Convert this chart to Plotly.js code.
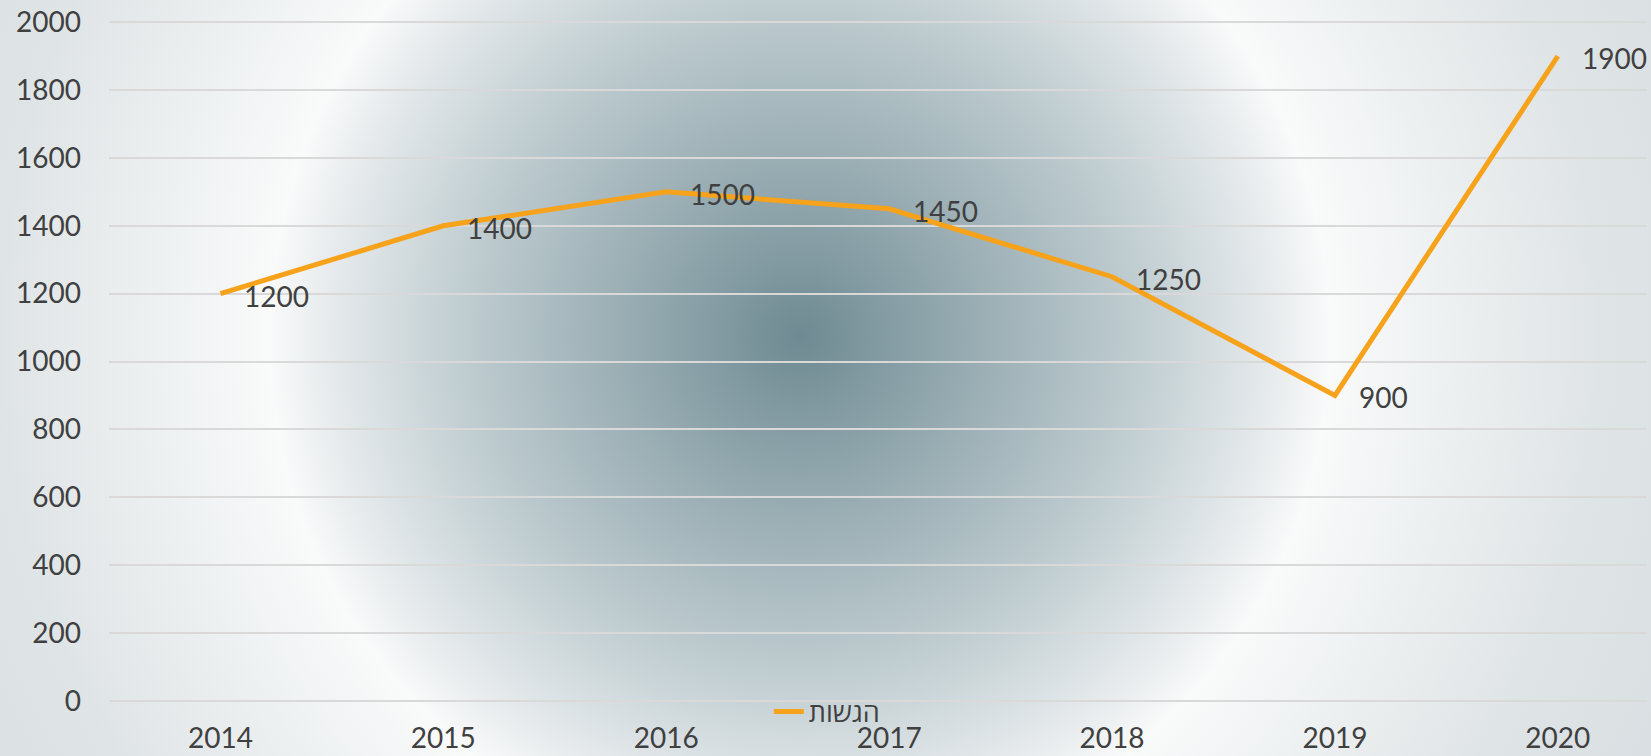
<!DOCTYPE html>
<html>
<head>
<meta charset="utf-8">
<script src="https://cdn.plot.ly/plotly-3.0.1.min.js"></script>
<style>
  html, body { margin: 0; padding: 0; }
  body {
    width: 1651px; height: 756px; overflow: hidden;
    background: radial-gradient(circle 1000px at 800px 337px,
      #6f8a92 0%, #8ea4ab 13%, #c0cdd1 34%, #e6eaec 47%, #f9fafa 53%, #eef1f2 64%, #dfe4e6 80%, #d8dee1 100%);
  }
  #chart { width: 1651px; height: 756px; }
</style>
</head>
<body>
<div id="chart"></div>
<script>
const years = ['2014', '2015', '2016', '2017', '2018', '2019', '2020'];
const submissions = [1200, 1400, 1500, 1450, 1250, 900, 1900];
const seriesName = 'הגשות';
const yTicks = [0, 200, 400, 600, 800, 1000, 1200, 1400, 1600, 1800, 2000];

const textColor = '#404040';
const fontFamily = 'Lato, "Open Sans", sans-serif';

const trace = {
  x: years,
  y: submissions,
  type: 'scatter',
  mode: 'lines',
  name: seriesName,
  line: { color: '#f7a21b', width: 5 },
  cliponaxis: false,
  hoverinfo: 'x+y'
};

// data labels: placed at each category index through the x axis scale
const labels = years.map((yr, i) => ({
  xref: 'x',
  yref: 'y',
  x: i,
  y: submissions[i],
  text: String(submissions[i]),
  showarrow: false,
  xanchor: 'left',
  yanchor: 'middle',
  xshift: 22,
  yshift: -2,
  font: { family: fontFamily, size: 28, color: textColor }
}));

const layout = {
  width: 1651,
  height: 756,
  margin: { l: 109, r: 4, t: 11.8, b: 49.9 },
  paper_bgcolor: 'rgba(0,0,0,0)',
  plot_bgcolor: 'rgba(0,0,0,0)',
  font: { family: fontFamily, size: 28, color: textColor },
  annotations: labels,
  xaxis: {
    type: 'category',
    range: [-0.5, 6.4],
    showgrid: false,
    zeroline: false,
    showline: false,
    ticks: '',
    ticklabelstandoff: 13,
    tickfont: { family: fontFamily, size: 28, color: textColor },
    fixedrange: true
  },
  yaxis: {
    range: [-15, 2030],
    tickvals: yTicks,
    ticktext: yTicks.map(String),
    showgrid: true,
    gridcolor: '#d9d9d9',
    gridwidth: 2,
    zeroline: false,
    showline: false,
    ticks: '',
    ticklabelstandoff: 27,
    tickfont: { family: fontFamily, size: 28, color: textColor },
    fixedrange: true
  },
  showlegend: true,
  legend: {
    orientation: 'h',
    x: 0.429,
    xanchor: 'left',
    y: -0.0085,
    yanchor: 'middle',
    bgcolor: 'rgba(0,0,0,0)',
    font: { family: fontFamily, size: 27, color: textColor }
  }
};

Plotly.newPlot('chart', [trace], layout, { displayModeBar: false, staticPlot: true });
</script>
</body>
</html>
